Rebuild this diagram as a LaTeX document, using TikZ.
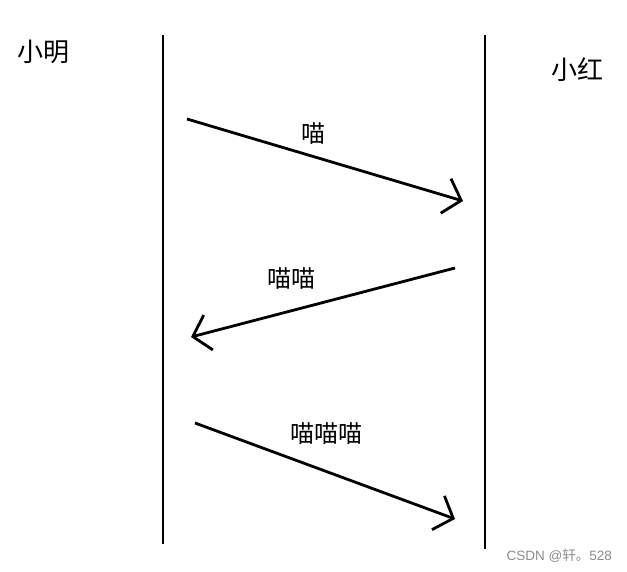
\documentclass[tikz,border=0pt]{standalone}
\usepackage{fontspec}
\newfontfamily\cjk{Noto Sans CJK SC}
\setmainfont{Liberation Sans}
\usetikzlibrary{arrows.meta}
\begin{document}
\begin{tikzpicture}[x=1pt,y=-1pt,
  lifeline/.style={line width=2.8pt,black},
  msg/.style={line width=2.8pt,black,-{Straight Barb[length=16pt,width=36pt,line width=2.8pt]}},
  actor/.style={font=\cjk\fontsize{26}{28}\selectfont,inner sep=0pt},
  lbl/.style={font=\cjk\fontsize{24}{26}\selectfont,inner sep=0pt},
  wm/.style={font=\fontsize{13.5}{15}\selectfont,text=black!45,inner sep=0pt,anchor=east}]
\useasboundingbox[fill=white] (0,0) rectangle (627,572);
% lifelines
\coordinate (L1t) at (163,35);
\coordinate (L1b) at (163,544);
\coordinate (L2t) at (485,35);
\coordinate (L2b) at (485,549);
\draw[lifeline] (L1t) -- (L1b);
\draw[lifeline] (L2t) -- (L2b);
% actors
\node[actor] (ming) at (43,52) {小明};
\node[actor] (hong) at (577,70) {小红};
% messages
\coordinate (a1s) at (187,119);
\coordinate (a1e) at (463,201);
\coordinate (a2s) at (455,268);
\coordinate (a2e) at (191,337);
\coordinate (a3s) at (195,423);
\coordinate (a3e) at (455,519);
\draw[msg] (a1s) -- (a1e);
\draw[msg] (a2s) -- (a2e);
\draw[msg] (a3s) -- (a3e);
\node[lbl] (m1) at (313,134) {喵};
\node[lbl] (m2) at (291,279) {喵喵};
\node[lbl] (m3) at (326,434) {喵喵喵};
% watermark
\node[wm] (wmk) at (612,556) {CSDN @{\cjk 轩。}528};
\end{tikzpicture}
\end{document}
